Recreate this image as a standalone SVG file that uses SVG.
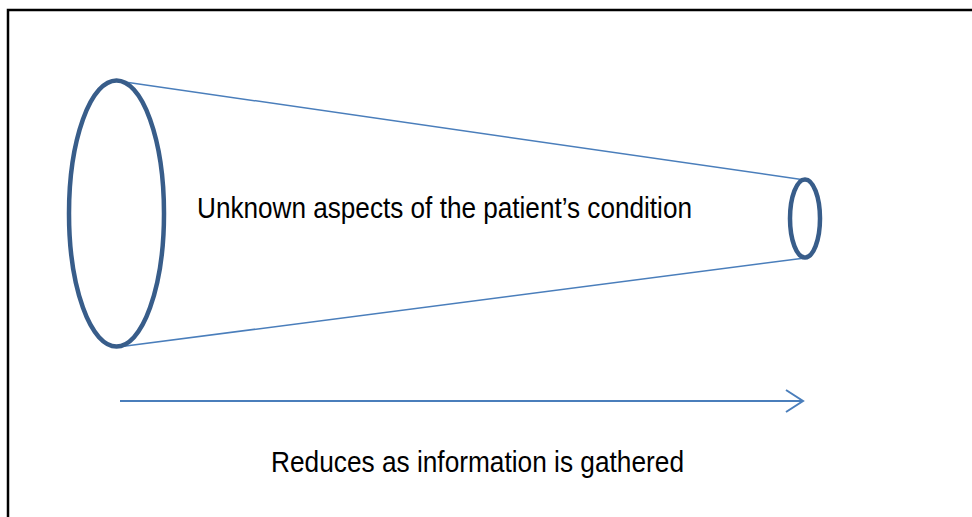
<svg xmlns="http://www.w3.org/2000/svg" width="972" height="517" viewBox="0 0 972 517">
<style>
.frame{fill:none;stroke:#000;stroke-width:2.5}
.ell{fill:none;stroke:#385D8A;stroke-width:4.5}
.ln{fill:none;stroke:#4A7EBB;stroke-width:1.5}
.arr{fill:none;stroke:#4A7EBB;stroke-width:2}
.lbl{font-family:"Liberation Sans",Arial,sans-serif;font-size:29px;fill:#000}
</style>
<defs>
<marker id="open" viewBox="0 0 20 24" refX="18" refY="12" markerWidth="20" markerHeight="24" markerUnits="userSpaceOnUse" orient="auto">
<path d="M1,1 L18,12 L1,23" fill="none" stroke="#4A7EBB" stroke-width="2"/>
</marker>
</defs>
<rect width="972" height="517" fill="#fff"/>
<path class="frame" d="M8,517 V10 H972"/>
<g id="cone">
<line class="ln" x1="118" y1="81" x2="805" y2="180"/>
<line class="ln" x1="118" y1="347" x2="805" y2="258"/>
</g>
<g id="big-end">
<ellipse class="ell" cx="116.5" cy="213.5" rx="47.5" ry="133"/>
</g>
<g id="small-end">
<ellipse class="ell" cx="805" cy="218.5" rx="15" ry="39"/>
</g>
<g id="connectors">
<line class="arr" x1="120" y1="401" x2="803" y2="401" marker-end="url(#open)"/>
</g>
<g id="label-unknown">
<text class="lbl" x="197" y="218" textLength="495" lengthAdjust="spacingAndGlyphs">Unknown aspects of the patient’s condition</text>
</g>
<g id="label-reduces">
<text class="lbl" x="271" y="472" textLength="413" lengthAdjust="spacingAndGlyphs">Reduces as information is gathered</text>
</g>
</svg>
